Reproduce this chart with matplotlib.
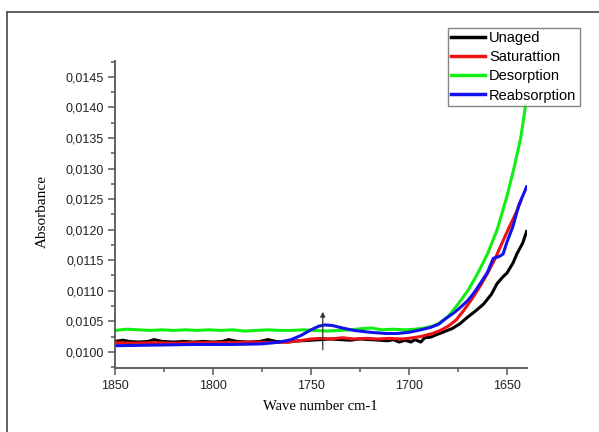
import matplotlib
matplotlib.use("Agg")
import matplotlib.pyplot as plt
from matplotlib.lines import Line2D
from matplotlib.ticker import MultipleLocator, FuncFormatter

# Unaged (black)
wn_unaged = [1850, 1846, 1843, 1838, 1833, 1830, 1826, 1820, 1815, 1810, 1805, 1800,
             1795, 1792, 1788, 1782, 1776, 1772, 1768, 1762, 1756, 1750, 1745, 1740,
             1735, 1730, 1725, 1720, 1715, 1711, 1708, 1705, 1702, 1699, 1697, 1694,
             1692, 1689, 1686, 1682, 1678, 1674, 1670, 1666, 1662, 1658, 1655, 1652,
             1650, 1647, 1645, 1642, 1640]
abs_unaged = [0.01017, 0.01019, 0.01017, 0.01016, 0.01017, 0.01020, 0.01017, 0.01016,
              0.01017, 0.01016, 0.01017, 0.01016, 0.01017, 0.01020, 0.01017, 0.01016,
              0.01017, 0.01020, 0.01017, 0.01016, 0.01018, 0.01019, 0.01020, 0.01021,
              0.01020, 0.01019, 0.01021, 0.01020, 0.01019, 0.01018, 0.01020, 0.01016,
              0.01019, 0.01016, 0.01020, 0.01016, 0.01023, 0.01024, 0.01028, 0.01033,
              0.01038, 0.01046, 0.01057, 0.01067, 0.01078, 0.01094, 0.01112, 0.01123,
              0.01129, 0.01145, 0.01160, 0.01178, 0.01197]

# Saturattion (red)
wn_sat = [1850, 1840, 1830, 1820, 1810, 1800, 1790, 1780, 1770, 1762, 1756, 1750,
          1745, 1740, 1734, 1728, 1722, 1716, 1710, 1704, 1700, 1694, 1688, 1684,
          1680, 1676, 1672, 1668, 1664, 1660, 1656, 1652, 1648, 1645, 1643]
abs_sat = [0.01015, 0.01014, 0.01015, 0.01014, 0.01015, 0.01015, 0.01015, 0.01016,
           0.01015, 0.01016, 0.01018, 0.01021, 0.01022, 0.01021, 0.01023, 0.01021,
           0.01022, 0.01021, 0.01022, 0.01021, 0.01022, 0.01025, 0.01030, 0.01035,
           0.01042, 0.01052, 0.01068, 0.01086, 0.01106, 0.01128, 0.01153, 0.01182,
           0.01210, 0.01230, 0.01246]

# Desorption (green)
wn_des = [1850, 1844, 1838, 1832, 1826, 1820, 1814, 1808, 1802, 1796, 1790, 1784,
          1778, 1772, 1766, 1760, 1754, 1748, 1742, 1736, 1730, 1724, 1719, 1714,
          1708, 1702, 1697, 1692, 1688, 1685, 1680, 1675, 1670, 1665, 1660, 1655,
          1650, 1646.5, 1643, 1640.5]
abs_des = [0.01035, 0.01037, 0.01036, 0.01035, 0.01036, 0.01035, 0.01036, 0.01035,
           0.01036, 0.01035, 0.01036, 0.01034, 0.01035, 0.01036, 0.01035, 0.01035,
           0.01036, 0.01035, 0.01034, 0.01035, 0.01036, 0.01038, 0.01039, 0.01036,
           0.01037, 0.01036, 0.01037, 0.01039, 0.01042, 0.01046, 0.01058, 0.01078,
           0.01100, 0.01128, 0.01160, 0.01200, 0.01255, 0.01300, 0.01350, 0.01404]

# Reabsorption (blue)
wn_reab = [1850, 1830, 1810, 1790, 1775, 1766, 1760, 1755, 1750, 1746, 1743, 1739,
           1734, 1728, 1720, 1712, 1706, 1700, 1694, 1689, 1685, 1681, 1677, 1674,
           1670, 1667, 1664, 1660, 1657, 1654, 1652, 1650, 1647, 1644, 1640]
abs_reab = [0.01010, 0.01011, 0.01012, 0.01012, 0.01013, 0.01016, 0.01020, 0.01027,
            0.01036, 0.01042, 0.01044, 0.01043, 0.01039, 0.01035, 0.01032, 0.01030,
            0.01030, 0.01032, 0.01036, 0.01040, 0.01045, 0.01055, 0.01064, 0.01072,
            0.01084, 0.01096, 0.01110, 0.01130, 0.01153, 0.01156, 0.01160, 0.01180,
            0.01205, 0.01240, 0.01270]

series = [
    ("Unaged", wn_unaged, abs_unaged, "black"),
    ("Saturattion", wn_sat, abs_sat, "#ee1111"),
    ("Desorption", wn_des, abs_des, "#11ee11"),
    ("Reabsorption", wn_reab, abs_reab, "#1111ee"),
]

fig = plt.figure(figsize=(5.99, 4.32), dpi=100)
ax = fig.add_axes([115 / 599, 1 - 367.7 / 432, (527 - 115) / 599, (367.7 - 61) / 432])

for name, wn, a, c in series:
    ax.plot(wn, a, color=c, lw=2.2, label=name, solid_joinstyle="round")

# arrow marking the band growth
ax.annotate("", xy=(1744, 0.01070), xytext=(1744, 0.00999),
            arrowprops=dict(arrowstyle="-|>", color="#333333", lw=0.9, mutation_scale=7))

ax.set_xlim(1850, 1639.8)
ax.set_ylim(0.00974, 0.01476)
ax.xaxis.set_major_locator(MultipleLocator(50))
ax.xaxis.set_minor_locator(MultipleLocator(25))
ax.yaxis.set_major_locator(MultipleLocator(0.0005))
ax.yaxis.set_minor_locator(MultipleLocator(0.00025))
ax.yaxis.set_major_formatter(FuncFormatter(lambda v, p: f"{v:.4f}".replace(".", ",")))
ax.xaxis.set_major_formatter(FuncFormatter(lambda v, p: f"{v:.0f}"))

for s in ["top", "right"]:
    ax.spines[s].set_visible(False)
for s in ["left", "bottom"]:
    ax.spines[s].set_color("#555555")
    ax.spines[s].set_linewidth(1.3)

ax.tick_params(which="major", direction="out", length=5, width=1.1, color="#555555",
               labelsize=9, labelcolor="#222222", pad=3)
ax.tick_params(which="minor", direction="out", length=3, width=1.1, color="#555555")
for lab in ax.get_xticklabels() + ax.get_yticklabels():
    lab.set_family("Liberation Sans")
ax.tick_params(axis="x", pad=4)

fig.text(320 / 599, 1 - 406 / 432, "Wave number cm-1", ha="center", va="center",
         family="Liberation Serif", fontsize=10.5)
fig.text(42 / 599, 1 - 211 / 432, "Absorbance", ha="center", va="center", rotation=90,
         family="Liberation Serif", fontsize=11)

leg = fig.legend(loc="upper left", bbox_to_anchor=(448 / 599, 1 - 28 / 432),
                 frameon=True, fancybox=False, handlelength=2.3, handletextpad=0.3,
                 labelspacing=0.35, borderpad=0.22, borderaxespad=0,
                 prop={"family": "Liberation Sans", "size": 10.5})
leg.get_frame().set_edgecolor("#666666")
leg.get_frame().set_linewidth(1.0)
for h in leg.get_lines():
    h.set_linewidth(2.5)

# outer frame (top and left visible)
fig.add_artist(Line2D([7 / 599, 1.0], [1 - 12 / 432, 1 - 12 / 432], color="#555555", lw=1.3))
fig.add_artist(Line2D([7 / 599, 7 / 599], [0, 1 - 12 / 432], color="#555555", lw=1.3))

fig.savefig("out.png", dpi=100)
